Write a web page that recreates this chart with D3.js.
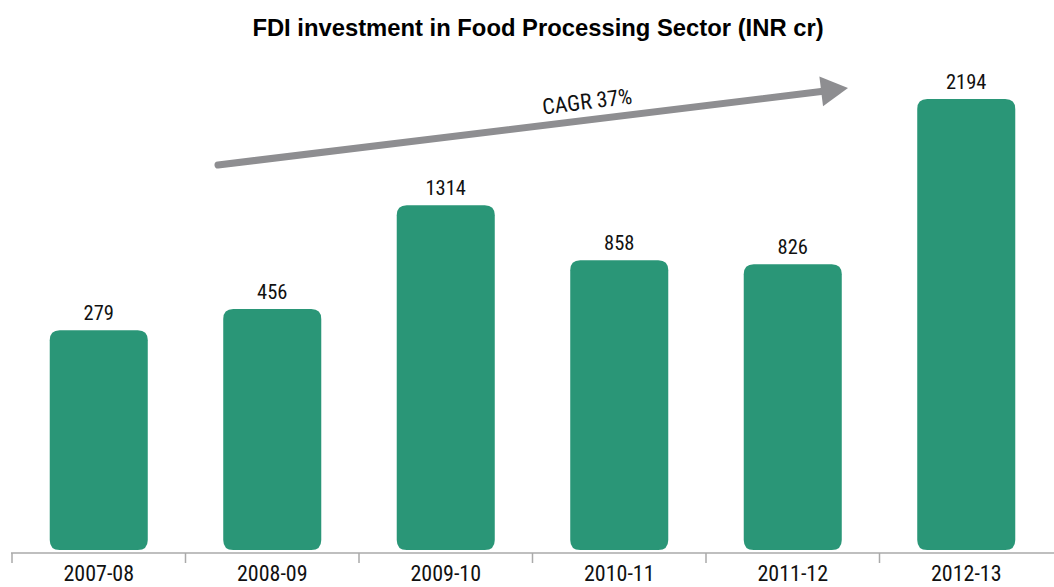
<!DOCTYPE html>
<html>
<head>
<meta charset="utf-8">
<script src="https://cdn.jsdelivr.net/npm/d3@7"></script>
<style>
  body { margin: 0; background: #fff; }
  #chart text { font-family: "Liberation Sans Narrow", "Roboto Condensed", "Liberation Sans", Arial, sans-serif; }
  #chart .title { font-family: "Liberation Sans", Arial, sans-serif; font-weight: bold; }
</style>
</head>
<body>
<div id="chart"></div>
<script>
// Data
const years = ["2007-08", "2008-09", "2009-10", "2010-11", "2011-12", "2012-13"];
const fdi = [279, 456, 1314, 858, 826, 2194];
const cagrLabel = "CAGR 37%";
const chartTitle = "FDI investment in Food Processing Sector (INR cr)";

document.addEventListener("DOMContentLoaded", function () {
  drawChart();
});

function drawChart() {
  var width = 1054,
    height = 587,
    baseline = 550,
    axisY = 553;

  const svg = d3
    .select("#chart")
    .append("svg")
    .attr("width", width)
    .attr("height", height);

  // band scale for the years
  const x = d3
    .scaleBand()
    .domain(years)
    .range([12, 1053])
    .paddingInner(0.435)
    .paddingOuter(0.2175);

  // bars start from a raised visual base, like the original
  const y = d3.scaleLinear().domain([0, d3.max(fdi)]).range([364, 99]);

  // title
  svg
    .append("text")
    .attr("class", "title")
    .attr("x", 538)
    .attr("y", 36)
    .attr("text-anchor", "middle")
    .attr("font-size", 23.8)
    .attr("fill", "#000")
    .text(chartTitle);

  // bars
  svg
    .selectAll(".bar")
    .data(fdi)
    .enter()
    .append("path")
    .attr("class", "bar")
    .attr("fill", "#2a9677")
    .attr("d", function (d, i) {
      const x0 = x(years[i]),
        w = x.bandwidth(),
        top = y(d),
        r = 10;
      return `M${x0},${baseline - r}
        L${x0},${top + r} Q${x0},${top} ${x0 + r},${top}
        L${x0 + w - r},${top} Q${x0 + w},${top} ${x0 + w},${top + r}
        L${x0 + w},${baseline - r} Q${x0 + w},${baseline} ${x0 + w - r},${baseline}
        L${x0 + r},${baseline} Q${x0},${baseline} ${x0},${baseline - r} Z`;
    });

  // value labels
  svg
    .selectAll(".label")
    .data(fdi)
    .enter()
    .append("text")
    .attr("class", "label")
    .attr("x", (d, i) => x(years[i]) + x.bandwidth() / 2)
    .attr("y", (d) => y(d) - 10)
    .attr("text-anchor", "middle")
    .attr("font-size", 20.5)
    .attr("fill", "#111")
    .text((d) => d);

  // axis line with ticks at band boundaries
  const gap = (x.step() - x.bandwidth()) / 2;
  svg
    .append("line")
    .attr("x1", 11)
    .attr("x2", width)
    .attr("y1", axisY)
    .attr("y2", axisY)
    .attr("stroke", "#aaa")
    .attr("stroke-width", 1.5);

  svg
    .selectAll(".tick")
    .data(years)
    .enter()
    .append("line")
    .attr("class", "tick")
    .attr("x1", (d) => x(d) - gap)
    .attr("x2", (d) => x(d) - gap)
    .attr("y1", axisY)
    .attr("y2", axisY + 10)
    .attr("stroke", "#aaa")
    .attr("stroke-width", 1.5);

  svg
    .selectAll(".year")
    .data(years)
    .enter()
    .append("text")
    .attr("class", "year")
    .attr("x", (d) => x(d) + x.bandwidth() / 2)
    .attr("y", 581)
    .attr("text-anchor", "middle")
    .attr("font-size", 22)
    .attr("fill", "#111")
    .text((d) => d);

  // CAGR arrow
  const ax0 = 218, ay0 = 165, ax1 = 848, ay1 = 88;
  const ang = Math.atan2(ay1 - ay0, ax1 - ax0);
  const headLen = 27, headHalf = 15;
  const bx = ax1 - headLen * Math.cos(ang),
    by = ay1 - headLen * Math.sin(ang);

  svg
    .append("line")
    .attr("x1", ax0)
    .attr("y1", ay0)
    .attr("x2", bx + 2)
    .attr("y2", by)
    .attr("stroke", "#8e8e91")
    .attr("stroke-width", 7)
    .attr("stroke-linecap", "round");

  const nx = -Math.sin(ang), ny = Math.cos(ang);
  svg
    .append("path")
    .attr("fill", "#8e8e91")
    .attr(
      "d",
      `M${ax1},${ay1} L${bx + nx * headHalf},${by + ny * headHalf} L${bx - nx * headHalf},${by - ny * headHalf} Z`
    );

  const deg = (ang * 180) / Math.PI;
  svg
    .append("text")
    .attr("transform", `translate(588,109) rotate(${deg})`)
    .attr("text-anchor", "middle")
    .attr("font-size", 22)
    .attr("fill", "#111")
    .text(cagrLabel);
}
</script>
</body>
</html>
